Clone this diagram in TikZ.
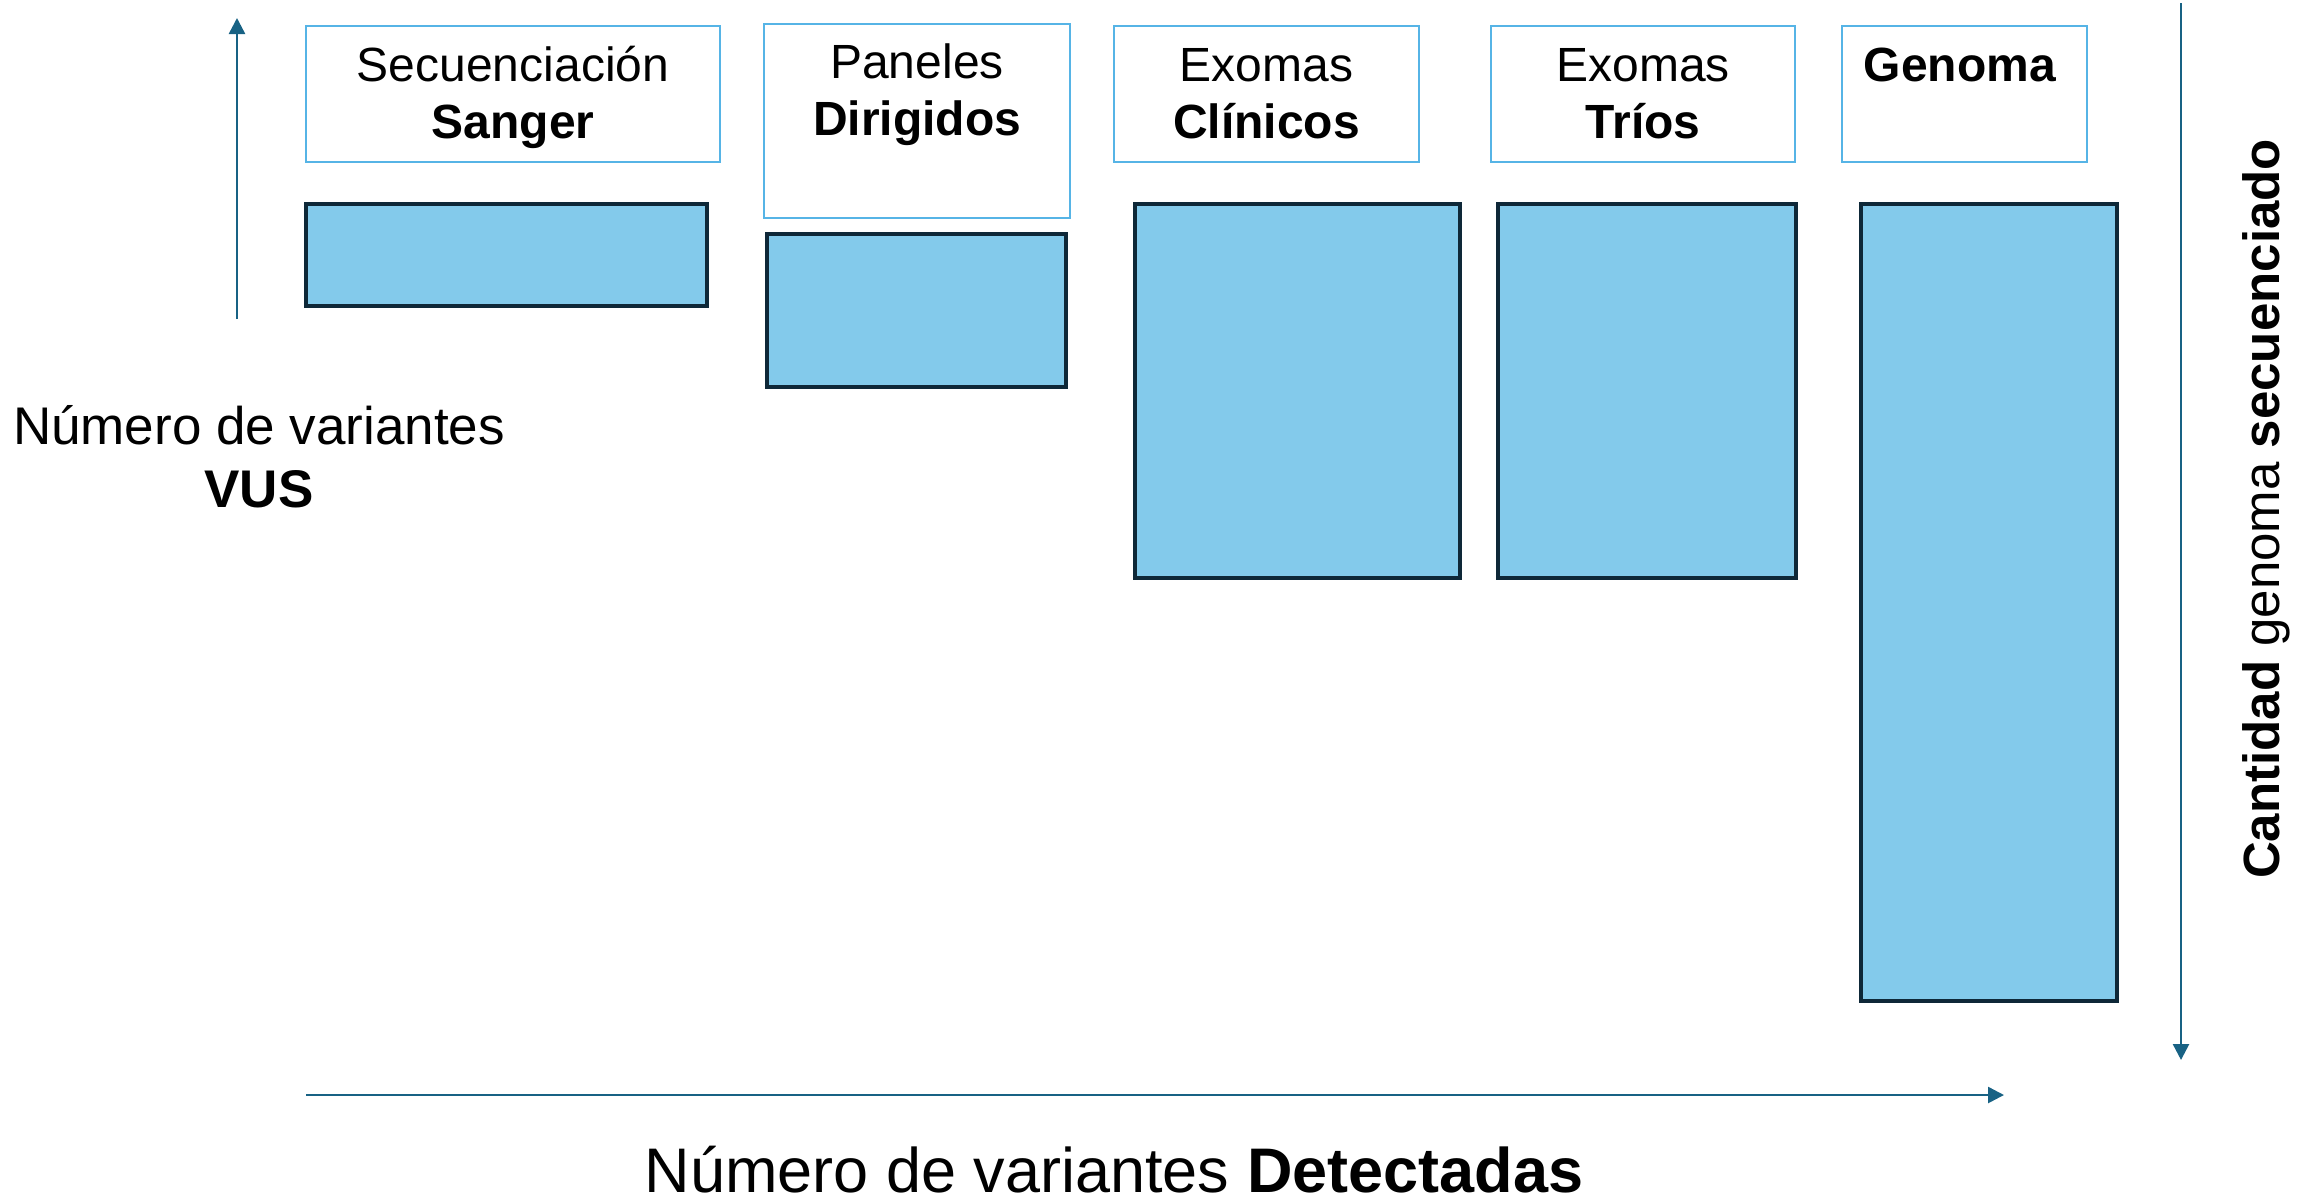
\documentclass[tikz,border=0pt]{standalone}
\usepackage{fontspec}
\setmainfont{Liberation Sans}
\usetikzlibrary{arrows.meta}
\definecolor{barfill}{RGB}{131,202,235}
\definecolor{bardraw}{RGB}{14,40,56}
\definecolor{boxdraw}{RGB}{86,180,230}
\definecolor{axiscol}{RGB}{24,98,132}
\begin{document}
\begin{tikzpicture}[x=1pt,y=-1pt,
  bar/.style={draw=bardraw, fill=barfill, line width=4pt, inner sep=0pt},
  lbox/.style={draw=boxdraw, line width=2pt, inner sep=0pt},
  boxtxt/.style={font=\fontsize{48}{57}\selectfont, anchor=base, inner sep=0pt},
  sidetxt/.style={font=\fontsize{53}{64}\selectfont, anchor=base, inner sep=0pt},
  axis/.style={draw=axiscol, line width=2.5pt, -{Triangle[length=16pt,width=16pt]}}]
\useasboundingbox (0,0) rectangle (2304,1203);

% label boxes
\node[lbox, minimum width=414pt, minimum height=136pt] (L1) at (513,94) {};
\node[lbox, minimum width=306pt, minimum height=194pt] (L2) at (917,121) {};
\node[lbox, minimum width=305pt, minimum height=136pt] (L3) at (1266.5,94) {};
\node[lbox, minimum width=304pt, minimum height=136pt] (L4) at (1643,94) {};
\node[lbox, minimum width=245pt, minimum height=136pt] (L5) at (1964.5,94) {};

% label texts
\node[boxtxt] (t1a) at (513,81) {Secuenciación};
\node[boxtxt] (t1b) at (513,138) {\textbf{Sanger}};
\node[boxtxt] (t2a) at (917,78) {Paneles};
\node[boxtxt] (t2b) at (917,135) {\textbf{Dirigidos}};
\node[boxtxt] (t3a) at (1266.5,81) {Exomas};
\node[boxtxt] (t3b) at (1266.5,138) {\textbf{Clínicos}};
\node[boxtxt] (t4a) at (1643,81) {Exomas};
\node[boxtxt] (t4b) at (1643,138) {\textbf{Tríos}};
\node[boxtxt] (t5a) at (1960,81) {\textbf{Genoma}};

% bars
\node[bar, minimum width=401pt, minimum height=102pt] (B1) at (506.5,255) {};
\node[bar, minimum width=299pt, minimum height=153pt] (B2) at (916.5,310.5) {};
\node[bar, minimum width=325pt, minimum height=374pt] (B3) at (1297.5,391) {};
\node[bar, minimum width=298pt, minimum height=374pt] (B4) at (1647,391) {};
\node[bar, minimum width=256pt, minimum height=797pt] (B5) at (1989,602.5) {};

% axes
\coordinate (ua1) at (237,319);
\coordinate (ua2) at (237,18);
\coordinate (da1) at (2181,3);
\coordinate (da2) at (2181,1060);
\coordinate (ha1) at (306,1095);
\coordinate (ha2) at (2004,1095);
\draw[axis] (ua1) -- (ua2);
\draw[axis] (da1) -- (da2);
\draw[axis] (ha1) -- (ha2);

% axis labels
\node[sidetxt] (yl1) at (259,444) {Número de variantes};
\node[sidetxt] (yl2) at (259,507) {\textbf{VUS}};
\node[font=\fontsize{63}{76}\selectfont, anchor=base, inner sep=0pt] (xl) at (1114,1192) {Número de variantes \textbf{Detectadas}};
\node[font=\fontsize{51}{61}\selectfont, anchor=base, inner sep=0pt, rotate=90] (rl) at (2279,509) {\textbf{Cantidad} genoma \textbf{secuenciado}};
\end{tikzpicture}
\end{document}
